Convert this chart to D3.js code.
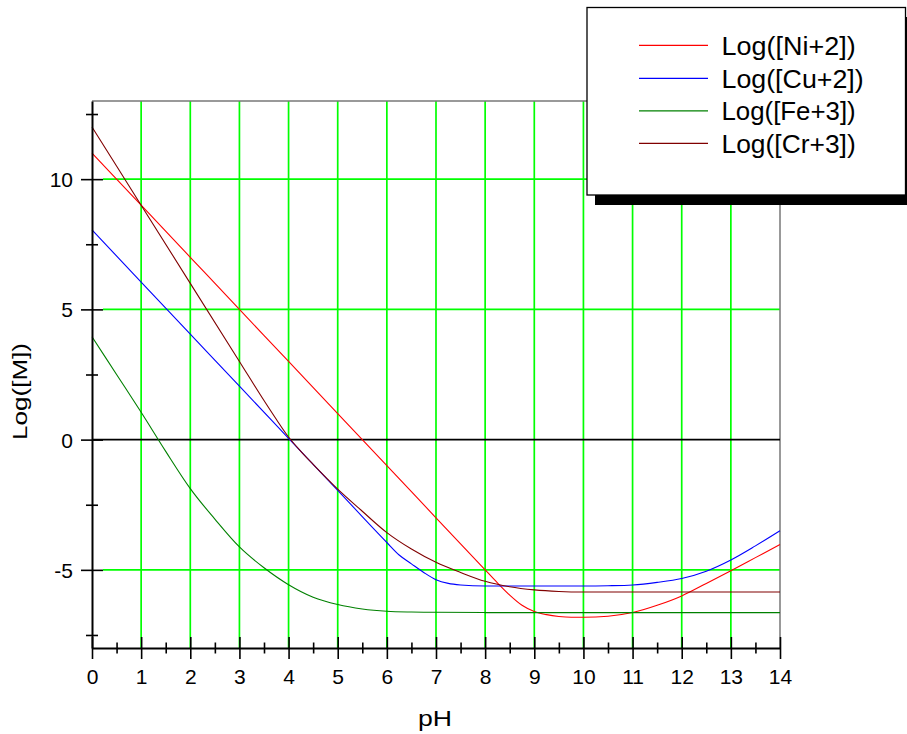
<!DOCTYPE html>
<html>
<head>
<meta charset="utf-8">
<script src="https://cdn.jsdelivr.net/npm/d3@7/dist/d3.min.js"></script>
<style>
  html, body { margin: 0; padding: 0; background: #fff; }
  svg { display: block; font-family: "Liberation Sans", Arial, sans-serif; }
</style>
</head>
<body>
<svg id="chart" width="907" height="734"></svg>
<script>
// ---- data ----
const seriesNames = ["Log([Ni+2])", "Log([Cu+2])", "Log([Fe+3])", "Log([Cr+3])"];
const seriesColors = ["#ff0000", "#0000ff", "#008000", "#800000"];

const phNi = [0,1,2,3,4,5,6,7,8,8.25,8.5,8.75,9,9.25,9.5,9.75,10,10.5,11,11.5,12,12.5,13,13.5,14];
const logNi = [11,9,7,5,3,1,-1,-3,-5,-5.5,-5.97,-6.36,-6.6,-6.72,-6.79,-6.82,-6.82,-6.78,-6.64,-6.36,-6.0,-5.52,-5.03,-4.53,-4.03];

const phCu = [0,1,2,3,4,5,6,6.25,6.5,6.75,7,7.25,7.5,8,9,10,10.5,11,11.5,12,12.5,13,13.5,14];
const logCu = [8.05,6.05,4.05,2.05,0.05,-1.95,-3.95,-4.43,-4.77,-5.1,-5.38,-5.52,-5.58,-5.62,-5.62,-5.62,-5.61,-5.58,-5.48,-5.33,-5.05,-4.62,-4.08,-3.5];

const phFe = [0,0.5,1,1.5,2,2.5,3,3.5,4,4.5,5,5.5,6,6.5,7,8,9,10,11,12,13,14];
const logFe = [3.95,2.5,1.05,-0.45,-1.88,-3.05,-4.12,-4.92,-5.57,-6.05,-6.33,-6.5,-6.59,-6.62,-6.63,-6.64,-6.64,-6.64,-6.64,-6.64,-6.64,-6.64];

const phCr = [0,1,2,3,3.5,3.75,4,4.25,4.5,5,5.5,6,6.5,7,7.5,8,8.5,9,9.5,10,11,12,13,14];
const logCr = [12,9,6,3,1.5,0.78,0.1,-0.45,-0.95,-1.9,-2.75,-3.57,-4.2,-4.71,-5.1,-5.44,-5.65,-5.77,-5.83,-5.85,-5.85,-5.85,-5.85,-5.85];

const xTickValues = d3.range(0, 14.01, 0.5);
const xTickLabels = d3.range(0, 15, 1);
const yTickValues = [-7.5,-5,-2.5,0,2.5,5,7.5,10,12.5];
const yTickLabels = [-5, 0, 5, 10];
const xGridValues = d3.range(1, 14, 1);
const yGridValues = [-5, 5, 10];

const xTitle = "pH";
const yTitle = "Log([M])";

// ---- layout ----
const svg = d3.select("#chart");
const L = 92, R = 780, T = 101, B = 648;
const x = d3.scaleLinear().domain([0, 14]).range([L, R]);
const y = d3.scaleLinear().domain([-8, 13]).range([B, T]);

const series = [
  {name: seriesNames[0], color: seriesColors[0], ph: phNi, v: logNi},
  {name: seriesNames[1], color: seriesColors[1], ph: phCu, v: logCu},
  {name: seriesNames[2], color: seriesColors[2], ph: phFe, v: logFe},
  {name: seriesNames[3], color: seriesColors[3], ph: phCr, v: logCr}
];

// grid
const grid = svg.append("g");
grid.selectAll("line.vx").data(xGridValues).join("line").attr("class", "vx")
  .attr("x1", d => x(d)).attr("x2", d => x(d))
  .attr("y1", T).attr("y2", B)
  .attr("stroke", "#00ff00").attr("stroke-width", 1.7);
grid.selectAll("line.hy").data(yGridValues).join("line").attr("class", "hy")
  .attr("x1", L + 11).attr("x2", R)
  .attr("y1", d => y(d)).attr("y2", d => y(d))
  .attr("stroke", "#00ff00").attr("stroke-width", 1.7);

// frame (top/right)
svg.append("line").attr("x1", L).attr("x2", R).attr("y1", T).attr("y2", T)
  .attr("stroke", "#777").attr("stroke-width", 1.5);
svg.append("line").attr("x1", R).attr("x2", R).attr("y1", T).attr("y2", B)
  .attr("stroke", "#777").attr("stroke-width", 1.5);

// zero line
svg.append("line").attr("x1", L).attr("x2", R).attr("y1", y(0)).attr("y2", y(0))
  .attr("stroke", "#000").attr("stroke-width", 1.6);

// curves
const line = d3.line().curve(d3.curveMonotoneX);
svg.append("g").selectAll("path").data(series).join("path")
  .attr("d", s => line(s.ph.map((p, i) => [x(p), y(s.v[i])])))
  .attr("fill", "none")
  .attr("stroke", s => s.color)
  .attr("stroke-width", 1.1);

// x axis
const xAxis = svg.append("g").attr("transform", `translate(0,${B})`)
  .call(d3.axisBottom(x).tickValues(xTickValues).tickSizeOuter(0)
    .tickFormat(d => Number.isInteger(d) ? String(d) : ""));
xAxis.select(".domain").attr("stroke", "#000").attr("stroke-width", 2);
xAxis.selectAll(".tick line")
  .attr("y1", d => Number.isInteger(d) ? -11 : -5.5)
  .attr("y2", d => Number.isInteger(d) ? 11 : 5.5)
  .attr("stroke", "#000").attr("stroke-width", 1.6);
xAxis.selectAll(".tick text")
  .attr("y", 35.5).attr("dy", null)
  .attr("font-size", 21).attr("fill", "#000")
  .attr("font-family", "'Liberation Sans', Arial, sans-serif");

// y axis
const yAxis = svg.append("g").attr("transform", `translate(${L},0)`)
  .call(d3.axisLeft(y).tickValues(yTickValues).tickSizeOuter(0)
    .tickFormat(d => yTickLabels.includes(d) ? String(d) : ""));
yAxis.select(".domain").attr("stroke", "#000").attr("stroke-width", 2);
yAxis.selectAll(".tick line")
  .attr("x1", d => yTickLabels.includes(d) ? -11 : -6)
  .attr("x2", d => yTickLabels.includes(d) ? 11 : 6)
  .attr("stroke", "#000").attr("stroke-width", 1.6);
yAxis.selectAll(".tick text")
  .attr("x", -19).attr("dy", "0.36em")
  .attr("font-size", 21).attr("fill", "#000")
  .attr("font-family", "'Liberation Sans', Arial, sans-serif");

// axis titles
svg.append("text").attr("x", 435).attr("y", 726)
  .attr("text-anchor", "middle").attr("font-size", 22)
  .attr("textLength", 34).attr("lengthAdjust", "spacingAndGlyphs")
  .text(xTitle);
svg.append("text")
  .attr("transform", "translate(26.5,391.5) rotate(-90)")
  .attr("text-anchor", "middle").attr("font-size", 21)
  .attr("textLength", 97).attr("lengthAdjust", "spacingAndGlyphs")
  .text(yTitle);

// legend
const lg = svg.append("g");
lg.append("rect").attr("x", 595).attr("y", 17).attr("width", 330).attr("height", 188)
  .attr("fill", "#000");
lg.append("rect").attr("x", 587).attr("y", 7.5).attr("width", 318.5).attr("height", 187.5)
  .attr("fill", "#fff").attr("stroke", "#000").attr("stroke-width", 1.3);
const rowY = [45.3, 78.3, 110.8, 143.3];
const items = lg.selectAll("g.item").data(series).join("g")
  .attr("transform", (d, i) => `translate(0,${rowY[i]})`);
items.append("line").attr("x1", 639).attr("x2", 708).attr("y1", 0).attr("y2", 0)
  .attr("stroke", d => d.color).attr("stroke-width", 1.2);
items.append("text").attr("x", 721.5).attr("y", 9.2)
  .attr("font-size", 26).attr("fill", "#000")
  .attr("textLength", d => d.name.length * 12.2 + (d.name.includes("Cu") ? 8 : 0))
  .attr("lengthAdjust", "spacingAndGlyphs")
  .text(d => d.name);
</script>
</body>
</html>
